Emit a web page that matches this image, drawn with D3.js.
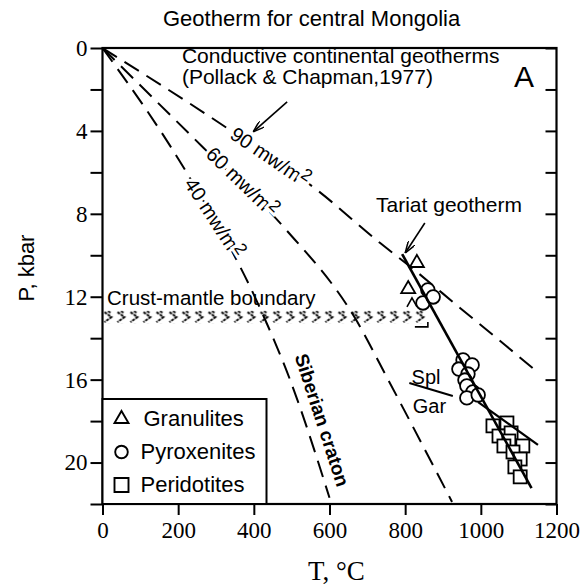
<!DOCTYPE html>
<html>
<head>
<meta charset="utf-8">
<script src="https://cdn.jsdelivr.net/npm/d3@7/dist/d3.min.js"></script>
<style>
  body{margin:0;padding:0;background:#fff;}
  svg{display:block;}
  .sans{font-family:"Liberation Sans",Arial,sans-serif;}
  .serif{font-family:"Liberation Serif","Times New Roman",serif;}
</style>
</head>
<body>
<svg id="chart" width="581" height="586"></svg>
<script>
// ---- data (T in degC, P in kbar) ----
var tempTicks = [0, 200, 400, 600, 800, 1000, 1200];
var presTicks = [0, 2, 4, 6, 8, 10, 12, 14, 16, 18, 20, 22];
var presLabels = [0, 4, 8, 12, 16, 20];

var geo90 = [[0,0],[329,3.86],[567,6.85],[734,9.41],[821,10.66],[945,12.54],[1064,14.33],[1149,15.63]];
var geo60 = [[0,0],[266,4.8],[477,8.6],[673,13.2],[752,15.9],[924,21.9]];
var geo40 = [[0,0],[223,6.03],[416,12.54],[496,16.02],[600,21.7]];

var tariat = [[792,9.94],[1134,21.23]];
var tariatLower = [[993,17.08],[1151,19.15]];
var splGar = [[811,16.16],[926,16.79]];

var granulites = [[831,10.37],[808,11.63]];
var granulitesCut = [[818,12.3]];
var pyroxenites = [[847,12.3],[860,11.67],[874,12.01],
  [953,15.05],[977,15.29],[942,15.49],[966,15.73],[958,16.02],
  [963,16.3],[979,16.59],[963,16.88],[993,16.74]];
var peridotites = [[1032,18.23],[1069,18.09],[1048,18.72],[1080,18.57],[1074,18.96],
  [1061,19.2],[1111,19.2],[1085,19.49],[1104,19.83],[1090,20.21],[1104,20.69]];

var moho = {t0: 0, t1: 860, p0: 12.67, p1: 13.31};

var legendItems = ["Granulites", "Pyroxenites", "Peridotites"];

// ---- setup ----
var svg = d3.select("#chart");
var x = d3.scaleLinear().domain([0, 1200]).range([102.5, 556.5]);
var y = d3.scaleLinear().domain([0, 22]).range([48, 504]);

var defs = svg.append("defs");
defs.append("marker")
  .attr("id", "arr").attr("viewBox", "0 0 12 8")
  .attr("refX", 12).attr("refY", 4)
  .attr("markerWidth", 12).attr("markerHeight", 8)
  .attr("markerUnits", "userSpaceOnUse").attr("orient", "auto")
  .append("path").attr("d", "M0,0 L12,4 L0,8")
  .attr("fill", "none").attr("stroke", "#000").attr("stroke-width", 1.5);

var pat = defs.append("pattern")
  .attr("id", "moho").attr("patternUnits", "userSpaceOnUse")
  .attr("x", x(0)).attr("y", y(moho.p0))
  .attr("width", 13).attr("height", y(moho.p1) - y(moho.p0));
pat.append("path").attr("d", "M2,1.5 L9,6.5 L2,11.5 M5.5,0.5 L8.5,2.5")
  .attr("fill", "none").attr("stroke", "#000")
  .attr("stroke-width", 1.9).attr("stroke-dasharray", "3,1");

// ---- axes ----
var gx = svg.append("g").attr("class", "serif")
  .attr("transform", "translate(0," + y(22) + ")")
  .call(d3.axisBottom(x).tickValues(tempTicks).tickSize(11).tickSizeOuter(0).tickPadding(7)
    .tickFormat(d3.format("d")));
var gy = svg.append("g").attr("class", "serif")
  .attr("transform", "translate(" + x(0) + ",0)")
  .call(d3.axisLeft(y).tickValues(presTicks).tickSize(12).tickSizeOuter(0).tickPadding(3)
    .tickFormat(function(d){ return presLabels.indexOf(d) >= 0 ? d : ""; }));
var gr = svg.append("g")
  .attr("transform", "translate(" + x(1200) + ",0)")
  .call(d3.axisLeft(y).tickValues(presTicks).tickSize(11).tickSizeOuter(0).tickFormat(""));
[gx, gy, gr].forEach(function(g){
  g.select(".domain").remove();
  g.selectAll(".tick line").attr("stroke", "#000").attr("stroke-width", 2);
  g.selectAll(".tick text").attr("fill", "#000").style("font-size", "23px")
    .style("font-family", '"Liberation Serif","Times New Roman",serif');
});

svg.append("rect")
  .attr("x", x(0)).attr("y", y(0))
  .attr("width", x(1200) - x(0)).attr("height", y(22) - y(0))
  .attr("fill", "none").attr("stroke", "#000").attr("stroke-width", 2.2);

// ---- crust-mantle boundary band ----
svg.append("rect")
  .attr("x", x(moho.t0)).attr("y", y(moho.p0))
  .attr("width", x(moho.t1) - x(moho.t0)).attr("height", y(moho.p1) - y(moho.p0))
  .attr("fill", "url(#moho)");
svg.append("path")
  .attr("d", "M" + (x(moho.t1) - 13) + "," + (y(moho.p1) + 3) + " H" + x(moho.t1) + " V" + (y(moho.p1) - 2))
  .attr("fill", "none").attr("stroke", "#000").attr("stroke-width", 1.6);

// ---- geotherms ----
var line = d3.line().x(function(d){ return x(d[0]); }).y(function(d){ return y(d[1]); });
var curve = d3.line().curve(d3.curveMonotoneX)
  .x(function(d){ return x(d[0]); }).y(function(d){ return y(d[1]); });

[geo90, geo60, geo40].forEach(function(g){
  svg.append("path").datum(g).attr("d", curve)
    .attr("fill", "none").attr("stroke", "#000")
    .attr("stroke-width", 2).attr("stroke-dasharray", "17,9");
});

// ---- symbols ----
var tri = d3.symbol().type(d3.symbolTriangle).size(85);
svg.selectAll(".gran").data(granulites).enter().append("path")
  .attr("transform", function(d){ return "translate(" + x(d[0]) + "," + y(d[1]) + ")"; })
  .attr("d", tri).attr("fill", "#fff").attr("stroke", "#000").attr("stroke-width", 1.8);
svg.selectAll(".granc").data(granulitesCut).enter().append("path")
  .attr("transform", function(d){ return "translate(" + x(d[0]) + "," + y(d[1]) + ")"; })
  .attr("d", "M-5,4 L0,-5 L5,4").attr("fill", "none").attr("stroke", "#000").attr("stroke-width", 1.6);

svg.selectAll(".pyr").data(pyroxenites).enter().append("circle")
  .attr("cx", function(d){ return x(d[0]); }).attr("cy", function(d){ return y(d[1]); })
  .attr("r", 6.8).attr("fill", "#fff").attr("stroke", "#000").attr("stroke-width", 1.8);

svg.selectAll(".per").data(peridotites).enter().append("rect")
  .attr("x", function(d){ return x(d[0]) - 6.5; }).attr("y", function(d){ return y(d[1]) - 6.5; })
  .attr("width", 13).attr("height", 13)
  .attr("fill", "#fff").attr("stroke", "#000").attr("stroke-width", 1.8);

// ---- solid lines ----
svg.append("path").datum(tariat).attr("d", line)
  .attr("stroke", "#000").attr("stroke-width", 2.6).attr("fill", "none");
svg.append("path").datum(tariatLower).attr("d", line)
  .attr("stroke", "#000").attr("stroke-width", 2.2).attr("fill", "none");
svg.append("path").datum(splGar).attr("d", line)
  .attr("stroke", "#000").attr("stroke-width", 2).attr("fill", "none");

// ---- arrows ----
svg.append("path").datum([[488,2.6],[398,4.05]]).attr("d", line)
  .attr("stroke", "#000").attr("stroke-width", 1.6).attr("marker-end", "url(#arr)");
svg.append("path").datum([[852,8.44],[800,9.89]]).attr("d", line)
  .attr("stroke", "#000").attr("stroke-width", 1.6).attr("marker-end", "url(#arr)");

// ---- labels ----
function label(t, p, txt, size, opts){
  opts = opts || {};
  var el = svg.append("text").attr("class", "sans")
    .attr("x", x(t)).attr("y", y(p))
    .style("font-size", size + "px").attr("fill", "#000");
  if (opts.anchor) el.attr("text-anchor", opts.anchor);
  if (opts.weight) el.style("font-weight", opts.weight);
  if (opts.rotate !== undefined) {
    el.attr("transform", "rotate(" + opts.rotate + "," + x(t) + "," + y(p) + ")")
      .attr("dominant-baseline", "central");
  }
  if (opts.halo) el.attr("stroke", "#fff").attr("stroke-width", 6).attr("paint-order", "stroke");
  el.text(txt);
  if (opts.sup) el.append("tspan").attr("dy", "-0.35em").style("font-size", (size * 0.85) + "px").text(opts.sup);
  return el;
}

svg.append("text").attr("class", "sans").attr("x", 163).attr("y", 26)
  .style("font-size", "22px").text("Geotherm for central Mongolia");

label(210, 0.7, "Conductive continental geotherms", 21);
label(210, 1.76, "(Pollack & Chapman,1977)", 21);
svg.append("text").attr("class", "sans").attr("x", 514).attr("y", 87)
  .style("font-size", "30px").text("A");

label(443, 5.26, "90 mw/m", 20, {anchor: "middle", rotate: 34, halo: true, sup: "2"});
label(369, 6.46, "60 mw/m", 20, {anchor: "middle", rotate: 44, halo: true, sup: "2"});
label(295, 8.2, "40 mw/m", 20, {anchor: "middle", rotate: 57, halo: true, sup: "2"});

label(723, 7.9, "Tariat geotherm", 21);
label(12, 12.4, "Crust-mantle boundary", 20.5);
label(817, 16.2, "Spl", 20);
label(820, 17.6, "Gar", 20);
label(580, 17.95, "Siberian craton", 19, {anchor: "middle", rotate: 72, weight: "bold", halo: true});

// ---- axis titles ----
svg.append("text").attr("class", "sans")
  .attr("transform", "translate(34,268) rotate(-90)")
  .attr("text-anchor", "middle").style("font-size", "22px").text("P, kbar");
svg.append("text").attr("class", "serif").attr("x", 308).attr("y", 580)
  .style("font-size", "27px").text("T, °C");

// ---- legend ----
var lg = svg.append("g").attr("transform", "translate(" + x(0) + ",399)");
lg.append("rect").attr("width", 164).attr("height", y(22) - 399)
  .attr("fill", "#fff").attr("stroke", "#000").attr("stroke-width", 2);
var rows = lg.selectAll(".row").data(legendItems).enter().append("g")
  .attr("transform", function(d, i){ return "translate(0," + (20 + i * 33) + ")"; });
rows.append("path")
  .attr("transform", "translate(19,0)")
  .attr("d", function(d, i){
    if (i === 0) return d3.symbol().type(d3.symbolTriangle).size(85)();
    if (i === 1) return d3.symbol().type(d3.symbolCircle).size(125)();
    return "M-7,-7 H7 V7 H-7 Z";
  })
  .attr("fill", "none").attr("stroke", "#000").attr("stroke-width", 1.9);
rows.append("text").attr("class", "sans")
  .attr("x", function(d, i){ return i === 0 ? 41 : 38; }).attr("y", 7)
  .style("font-size", "22px").text(function(d){ return d; });
</script>
</body>
</html>
